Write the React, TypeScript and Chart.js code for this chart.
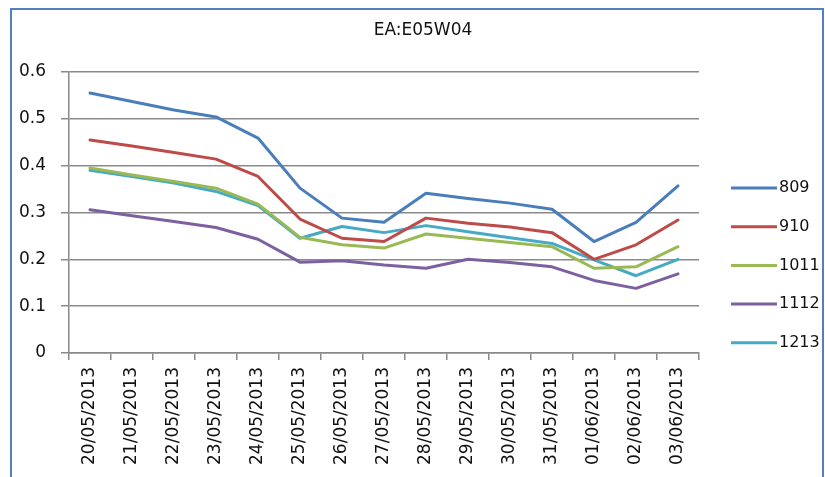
import React, { useEffect, useRef } from "react";
import { Chart, registerables } from "chart.js";

Chart.register(...registerables);

const TITLE = "EA:E05W04";

const categories = [
  "20/05/2013", "21/05/2013", "22/05/2013", "23/05/2013", "24/05/2013",
  "25/05/2013", "26/05/2013", "27/05/2013", "28/05/2013", "29/05/2013",
  "30/05/2013", "31/05/2013", "01/06/2013", "02/06/2013", "03/06/2013",
];

const seriesNames = ["809", "910", "1011", "1112", "1213"];

const s809 = [0.555, 0.537, 0.519, 0.504, 0.459, 0.352, 0.288, 0.279, 0.341, 0.330, 0.320, 0.307, 0.238, 0.279, 0.357];
const s910 = [0.455, 0.442, 0.428, 0.414, 0.377, 0.286, 0.245, 0.238, 0.288, 0.277, 0.269, 0.257, 0.200, 0.231, 0.284];
const s1011 = [0.395, 0.380, 0.366, 0.352, 0.318, 0.247, 0.231, 0.224, 0.254, 0.245, 0.236, 0.227, 0.181, 0.184, 0.227];
const s1112 = [0.306, 0.293, 0.281, 0.268, 0.243, 0.194, 0.197, 0.188, 0.181, 0.200, 0.193, 0.184, 0.155, 0.138, 0.169];
const s1213 = [0.390, 0.377, 0.363, 0.345, 0.315, 0.245, 0.270, 0.257, 0.272, 0.259, 0.246, 0.234, 0.199, 0.165, 0.200];

const seriesValues = [s809, s910, s1011, s1112, s1213];
const seriesColors = ["#4A7EBB", "#BE4B48", "#98B954", "#7D60A0", "#46AAC5"];

const yMin = 0;
const yMax = 0.6;
const yStep = 0.1;

const FONT = "'DejaVu Sans', sans-serif";

export default function App() {
  const ref = useRef<HTMLCanvasElement | null>(null);

  useEffect(() => {
    if (!ref.current) return;

    const decor = {
      id: "decor",
      beforeDraw(chart: any) {
        const ctx = chart.ctx;
        ctx.save();
        ctx.fillStyle = "#ffffff";
        ctx.fillRect(0, 0, chart.width, chart.height);
        ctx.strokeStyle = "#4F81BD";
        ctx.lineWidth = 2;
        ctx.beginPath();
        ctx.moveTo(11, chart.height + 20);
        ctx.lineTo(11, 9);
        ctx.lineTo(823, 9);
        ctx.lineTo(823, chart.height + 20);
        ctx.stroke();
        ctx.restore();
      },
      afterDraw(chart: any) {
        const ctx = chart.ctx;
        ctx.save();
        ctx.fillStyle = "#111";
        ctx.font = `17px ${FONT}`;
        ctx.textAlign = "center";
        ctx.textBaseline = "middle";
        ctx.fillText(TITLE, 423, 31);

        chart.data.datasets.forEach((ds: any, i: number) => {
          const y = 188 + i * 38.7;
          ctx.strokeStyle = ds.borderColor;
          ctx.lineWidth = 3;
          ctx.beginPath();
          ctx.moveTo(731, y);
          ctx.lineTo(777, y);
          ctx.stroke();
          ctx.fillStyle = "#111";
          ctx.font = `16px ${FONT}`;
          ctx.textAlign = "left";
          ctx.textBaseline = "middle";
          ctx.fillText(ds.label, 779, y);
        });
        ctx.restore();
      },
    };

    const chart = new Chart(ref.current, {
      type: "line",
      data: {
        labels: categories,
        datasets: seriesNames.map((name, i) => ({
          label: name,
          data: seriesValues[i],
          borderColor: seriesColors[i],
          backgroundColor: seriesColors[i],
          borderWidth: 3,
          pointRadius: 0,
          tension: 0,
          borderJoinStyle: "round" as const,
          borderCapStyle: "round" as const,
        })),
      },
      options: {
        animation: false,
        responsive: false,
        maintainAspectRatio: false,
        layout: { padding: { left: 0, top: 72, right: 126, bottom: 0 } },
        plugins: {
          legend: { display: false },
          title: { display: false },
          tooltip: { enabled: false },
        },
        scales: {
          x: {
            type: "category",
            offset: true,
            grid: {
              offset: true,
              drawOnChartArea: false,
              drawTicks: true,
              tickLength: 7,
              color: "#8a8a8a",
              lineWidth: 1.5,
            },
            border: { display: true, color: "#8a8a8a", width: 1.5 },
            ticks: {
              autoSkip: false,
              minRotation: 90,
              maxRotation: 90,
              padding: 7,
              color: "#111",
              font: { family: FONT, size: 17 },
            },
            afterFit(scale: any) {
              scale.height = 124;
            },
          },
          y: {
            min: yMin,
            max: yMax,
            ticks: {
              stepSize: yStep,
              padding: 15,
              color: "#111",
              font: { family: FONT, size: 17 },
            },
            grid: {
              color: "#8a8a8a",
              lineWidth: 1.5,
              tickLength: 8,
            },
            border: { display: true, color: "#8a8a8a", width: 1.5 },
            afterFit(scale: any) {
              scale.width = 69;
            },
          },
        },
      },
      plugins: [decor],
    });

    return () => chart.destroy();
  }, []);

  return (
    <div style={{ position: "absolute", left: 0, top: 0, width: 825, height: 477 }}>
      <canvas ref={ref} width={825} height={477} style={{ display: "block", width: 825, height: 477 }} />
    </div>
  );
}
